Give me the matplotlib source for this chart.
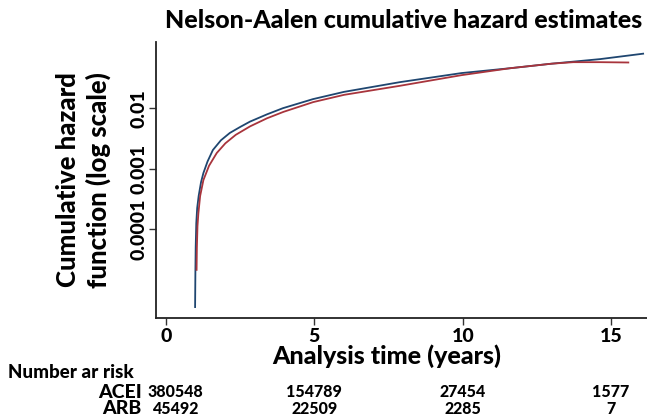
import matplotlib
matplotlib.use("Agg")
import matplotlib.pyplot as plt
import matplotlib.transforms as mtransforms

plt.rcParams['font.family'] = ['Lato', 'DejaVu Sans']
W = 'black'

# Nelson-Aalen cumulative hazard
acei_t = [0.98, 0.99, 1.00, 1.02, 1.05, 1.10, 1.18, 1.26, 1.40, 1.58, 1.85, 2.15,
          2.5, 2.83, 3.4, 3.94, 4.95, 6.0, 7.88, 9.96, 11.6, 13.0, 14.63, 16.08]
acei_h = [5.2e-6, 2.0e-5, 5.0e-5, 1.26e-4, 2.24e-4, 3.55e-4, 6.0e-4, 8.5e-4, 1.32e-3,
          2.04e-3, 2.95e-3, 3.9e-3, 4.9e-3, 6.0e-3, 7.9e-3, 0.0100, 0.0141, 0.0186,
          0.0269, 0.0380, 0.0457, 0.0543, 0.0646, 0.0794]

arb_t = [1.03, 1.04, 1.06, 1.09, 1.15, 1.26, 1.45, 1.71, 2.0, 2.35, 2.83, 3.4,
         3.96, 4.96, 6.0, 7.88, 9.96, 11.6, 13.0, 13.73, 14.63, 15.58]
arb_h = [2.14e-5, 5.0e-5, 1.12e-4, 1.82e-4, 3.55e-4, 6.5e-4, 1.12e-3, 1.82e-3,
         2.63e-3, 3.63e-3, 5.0e-3, 6.8e-3, 8.7e-3, 0.0126, 0.0166, 0.0234, 0.0351,
         0.0457, 0.0543, 0.0575, 0.0575, 0.0568]

risk_times = [0, 5, 10, 15]
acei_risk = ['380548', '154789', '27454', '1577']
arb_risk = ['45492', '22509', '2285', '7']

fig = plt.figure(figsize=(6.47, 4.18), dpi=100)
ax = fig.add_axes([0.241, 0.239, 0.759, 0.661])

ax.plot(acei_t, acei_h, color='#1f4670', lw=1.3)
ax.plot(arb_t, arb_h, color='#a8343c', lw=1.3)

ax.set_yscale('log')
ax.set_xlim(-0.34, 16.21)
ax.set_ylim(10**-5.466, 10**-0.904)
ax.set_xticks([0, 5, 10, 15])
ax.set_xticklabels(['0', '5', '10', '15'], fontsize=14, fontweight=W)
ax.set_yticks([1e-4, 1e-3, 1e-2])
ax.set_yticklabels(['0.0001', '0.001', '0.01'], fontsize=14, fontweight=W,
                   rotation=90, va='center')
ax.minorticks_off()
ax.tick_params(axis='both', direction='out', length=5, width=1, color='#333333')
ax.tick_params(axis='y', pad=1)
ax.tick_params(axis='x', pad=2)
for s in ['top', 'right']:
    ax.spines[s].set_visible(False)
for s in ['left', 'bottom']:
    ax.spines[s].set_linewidth(1.3)
    ax.spines[s].set_color('#222222')

ax.set_xlabel('Analysis time (years)', fontsize=18, fontweight=W)
ax.xaxis.set_label_coords(0.47, -0.095)
ax.set_ylabel('Cumulative hazard\nfunction (log scale)', fontsize=18.5,
              fontweight=W, linespacing=1.25)
ax.yaxis.set_label_coords(-0.092, 0.5)
ax.set_title('Nelson-Aalen cumulative hazard estimates', fontsize=18,
             fontweight=W, pad=10, x=0.505)

# number at risk table
trans = mtransforms.blended_transform_factory(ax.transData, fig.transFigure)
fig.text(0.013, 1 - 372 / 418, 'Number ar risk', fontsize=13.5, fontweight=W,
         va='center', ha='left')
fig.text(0.220, 1 - 392 / 418, 'ACEI', fontsize=14, fontweight=W,
         va='center', ha='right')
fig.text(0.218, 1 - 409 / 418, 'ARB', fontsize=14, fontweight=W,
         va='center', ha='right')
for i, t in enumerate(risk_times):
    xx = t + 0.3 if i == 0 else t
    ax.text(xx, 1 - 392 / 418, acei_risk[i], transform=trans, fontsize=11.5,
            fontweight=W, ha='center', va='center', clip_on=False)
    ax.text(xx, 1 - 409 / 418, arb_risk[i], transform=trans, fontsize=11.5,
            fontweight=W, ha='center', va='center', clip_on=False)

fig.savefig('out.png', dpi=100)
